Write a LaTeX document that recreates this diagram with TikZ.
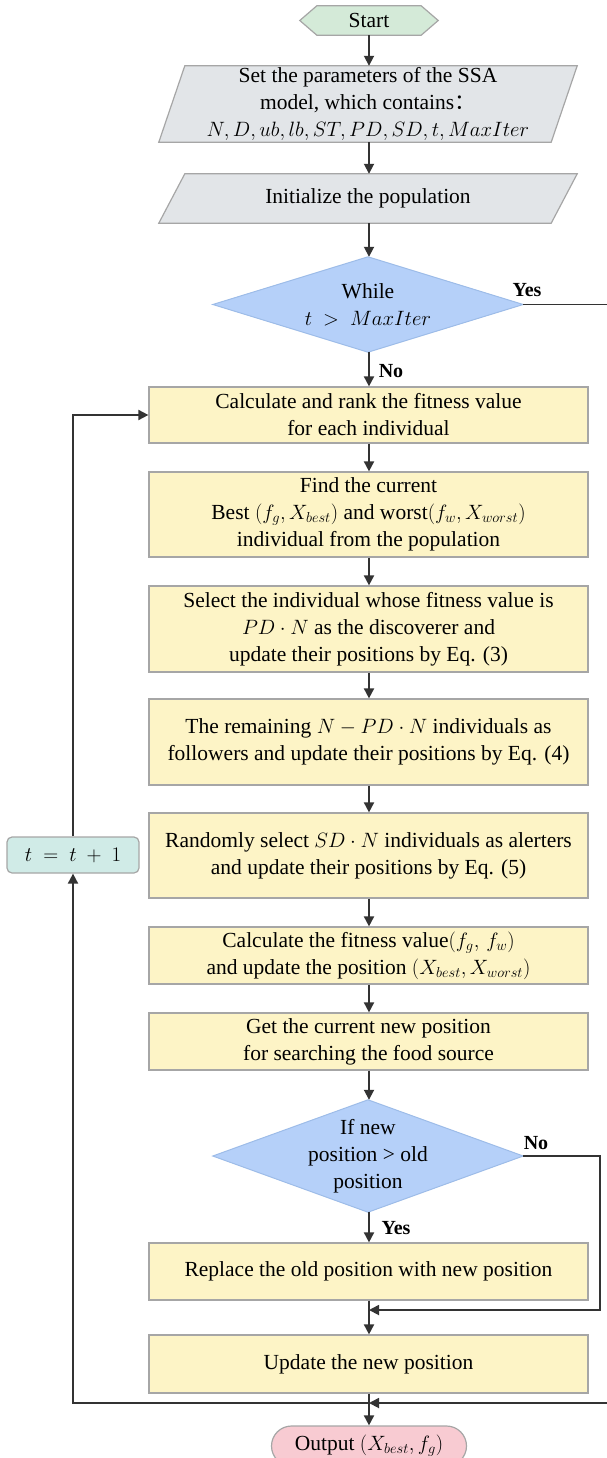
\documentclass[tikz,border=0pt]{standalone}
\usepackage{fontspec}
\setmainfont{Liberation Serif}
\newfontfamily\cjk{Noto Sans CJK SC}
\usetikzlibrary{arrows.meta}
\pgfdeclarelayer{bg}
\pgfsetlayers{bg,main}

\definecolor{linecol}{HTML}{333333}
\definecolor{edgecol}{HTML}{A6A6A6}
\definecolor{startfill}{HTML}{D4EAD8}
\definecolor{parafill}{HTML}{E2E5E8}
\definecolor{decfill}{HTML}{B5D0F9}
\definecolor{decedge}{HTML}{9DBCE8}
\definecolor{procfill}{HTML}{FDF4C6}
\definecolor{incfill}{HTML}{D0EBE7}
\definecolor{outfill}{HTML}{F8CBD2}

\tikzset{
  txt/.style={font=\fontsize{21.5}{27}\selectfont, align=center, text=black},
  proc/.style={txt, draw=edgecol, line width=1.2pt, fill=procfill,
    minimum width=439pt, inner sep=0pt},
  ioshape/.style={txt, inner sep=0pt, minimum width=418pt},
  decision/.style={txt, minimum width=310pt, minimum height=95pt, inner sep=0pt},
  flow/.style={draw=linecol, line width=1.8pt,
    -{Triangle[length=10pt,width=10pt]}},
  lbl/.style={font=\fontsize{20}{22}\selectfont\bfseries, text=black},
}

\begin{document}
\begin{tikzpicture}[x=1pt, y=-1pt]
\useasboundingbox (0,0) rectangle (607,1458);
\clip (0,0) rectangle (607,1458);

% terminal, input and process nodes
\node[txt, minimum width=138pt, minimum height=29pt, inner sep=0pt] (start) at (369,20.5) {Start};
\node[ioshape, minimum height=76pt] (par) at (368,104)
  {Set the parameters of the SSA\\ model, which contains{\cjk ：}\\ $N, D, ub, lb, ST, PD, SD, t, MaxIter$};
\node[ioshape, minimum height=49pt] (init) at (368,198.5) {Initialize the population};

\node[decision] (while) at (368,304.5) {While\\ $t\ >\ MaxIter$};

\node[proc, minimum height=56pt] (calc) at (368.5,415)
  {Calculate and rank the fitness value\\ for each individual};
\node[proc, minimum height=85pt] (find) at (368.5,514.5)
  {Find the current\\ Best $(f_g, X_{best})$ and worst$(f_w, X_{worst})$\\ individual from the population};
\node[proc, minimum height=86pt] (sel) at (368.5,629)
  {Select the individual whose fitness value is\\ $PD\cdot N$ as the discoverer and\\ update their positions by Eq. (3)};
\node[proc, minimum height=86pt] (rem) at (368.5,742)
  {The remaining $N - PD\cdot N$ individuals as\\ followers and update their positions by Eq. (4)};
\node[proc, minimum height=85pt] (rand) at (368.5,855.5)
  {Randomly select $SD\cdot N$ individuals as alerters\\ and update their positions by Eq. (5)};
\node[proc, minimum height=57pt] (fit) at (368.5,955.5)
  {Calculate the fitness value$(f_g,\, f_w)$\\ and update the position $(X_{best}, X_{worst})$};
\node[proc, minimum height=57pt] (get) at (368.5,1041.5)
  {Get the current new position\\ for searching the food source};

\node[decision, minimum height=112pt] (if) at (368,1156)
  {If new\\ position > old\\ position};

\node[proc, minimum height=57pt] (repl) at (368.5,1271.5)
  {Replace the old position with new position};
\node[proc, minimum height=58pt] (upd) at (368.5,1364)
  {Update the new position};

\node[txt, draw=edgecol, line width=1.2pt, fill=outfill, rounded corners=20pt,
  minimum width=195pt, minimum height=40pt, inner sep=0pt] (out) at (369,1446)
  {Output $(X_{best}, f_g)$};

\node[txt, draw=edgecol, line width=1.2pt, fill=incfill, rounded corners=5pt,
  minimum width=132pt, minimum height=36pt, inner sep=0pt] (inc) at (73,855)
  {$t\ =\ t\ +\ 1$};

% outlines of the hexagon, the parallelograms and the diamonds
\begin{pgfonlayer}{bg}
  \draw[draw=edgecol, line width=1.2pt, fill=startfill]
    ([xshift=17pt]start.north west) -- ([xshift=-17pt]start.north east)
    -- (start.east) -- ([xshift=-17pt]start.south east)
    -- ([xshift=17pt]start.south west) -- (start.west) -- cycle;
  \foreach \p in {par, init} {
    \draw[draw=edgecol, line width=1.2pt, fill=parafill]
      ([xshift=26pt]\p.north west) -- (\p.north east)
      -- ([xshift=-26pt]\p.south east) -- (\p.south west) -- cycle;
  }
  \foreach \d in {while, if} {
    \draw[draw=decedge, line width=1pt, fill=decfill]
      (\d.north) -- (\d.east) -- (\d.south) -- (\d.west) -- cycle;
  }
\end{pgfonlayer}

% junction points on the main column
\coordinate (j1) at (369,1310);
\coordinate (j2) at (369,1403);

% main flow
\draw[flow] (start.south -| 369,0) -- (par.north -| 369,0);
\draw[flow] (par.south -| 369,0) -- (init.north -| 369,0);
\draw[flow] (init.south -| 369,0) -- (while.north -| 369,0);
\draw[flow] (while.south -| 369,0) -- (calc.north -| 369,0);
\draw[flow] (calc.south -| 369,0) -- (find.north -| 369,0);
\draw[flow] (find.south -| 369,0) -- (sel.north -| 369,0);
\draw[flow] (sel.south -| 369,0) -- (rem.north -| 369,0);
\draw[flow] (rem.south -| 369,0) -- (rand.north -| 369,0);
\draw[flow] (rand.south -| 369,0) -- (fit.north -| 369,0);
\draw[flow] (fit.south -| 369,0) -- (get.north -| 369,0);
\draw[flow] (get.south -| 369,0) -- (if.north -| 369,0);
\draw[flow] (if.south -| 369,0) -- (repl.north -| 369,0);
\draw[flow] (repl.south -| 369,0) -- (upd.north -| 369,0);
\draw[flow] (upd.south -| 369,0) -- (out.north -| 369,0);

% branch labels
\node[lbl] (yes1) at (527,290) {Yes};
\node[lbl] (no1) at (391,371) {No};
\node[lbl] (yes2) at (396,1228) {Yes};
\node[lbl] (no2) at (536,1143) {No};

% branches and loop-back
\draw[flow] (while.east) -- (620,304.5) -- (620,1403) -- (j2);
\draw[flow] (if.east) -- (600,1156) -- (600,1310) -- (j1);
\draw[flow] (j2) -- (73,1403) -- (inc.south);
\draw[flow] (inc.north) -- (73,415) -- (calc.west);
\end{tikzpicture}
\end{document}
